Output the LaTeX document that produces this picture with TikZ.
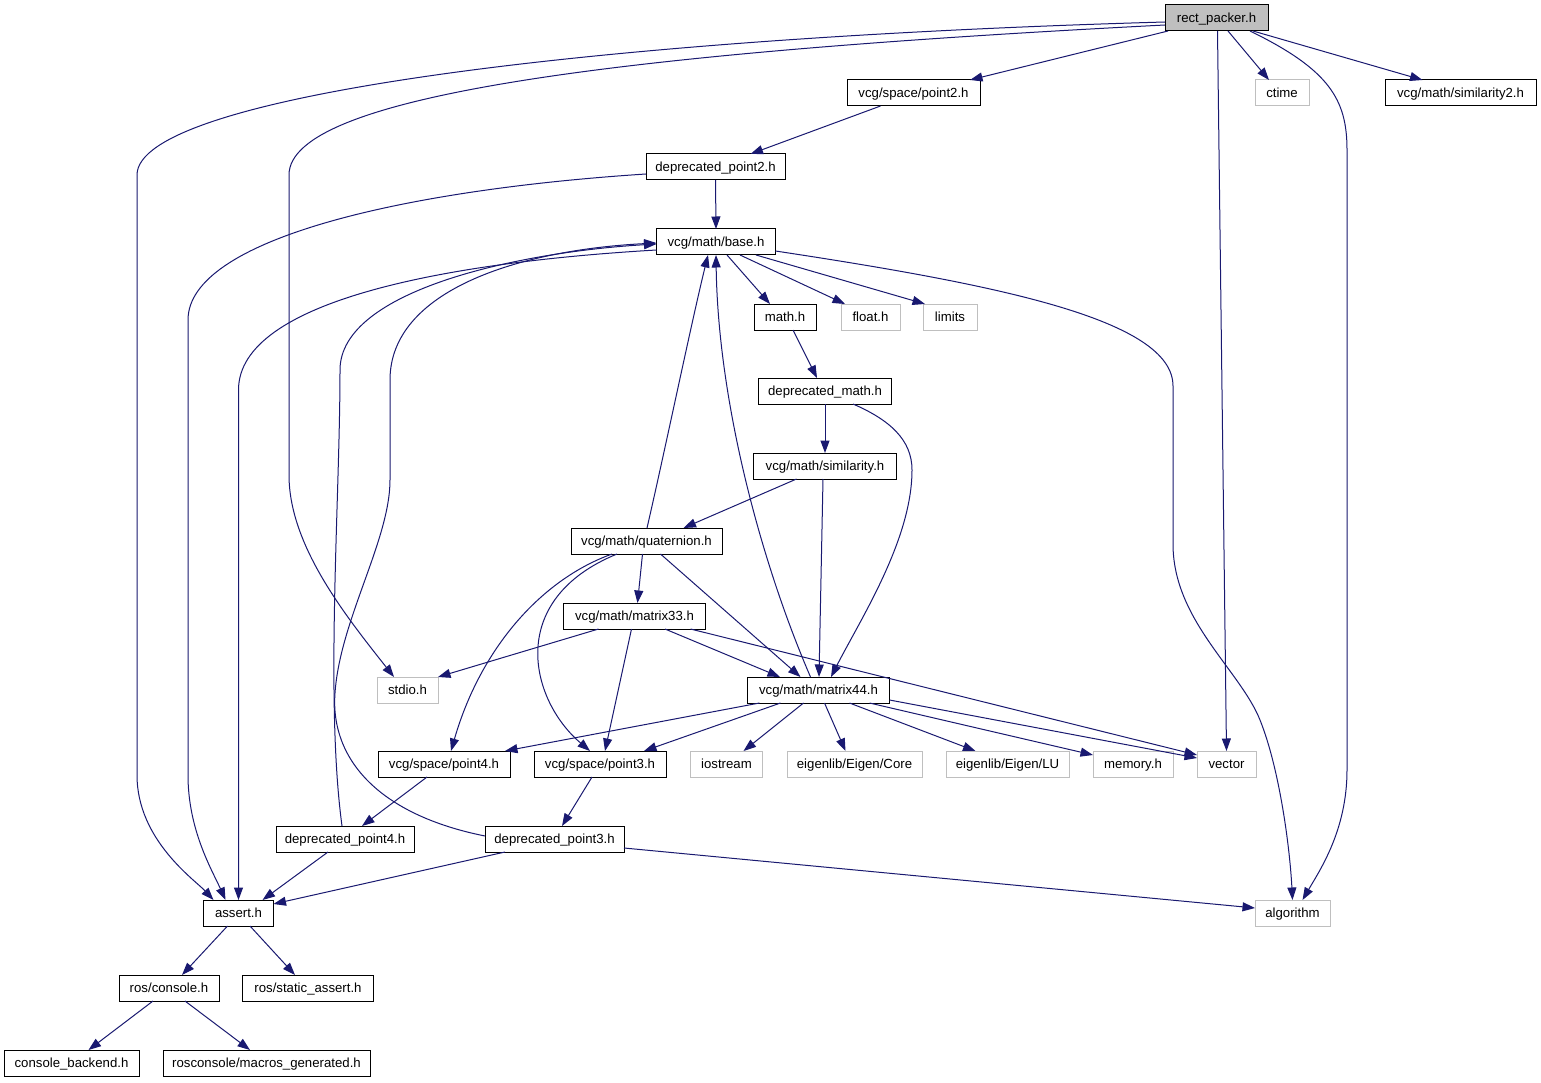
\documentclass[tikz,border=0pt]{standalone}
\usepackage{fontspec}
\setmainfont{Liberation Sans}
\usetikzlibrary{arrows.meta,calc}
\definecolor{edgeblue}{RGB}{25,25,112}
\definecolor{graybd}{RGB}{191,191,191}
\definecolor{rectfill}{RGB}{191,191,191}
\newcommand{\fsz}{\fontsize{13.2pt}{15pt}\selectfont}
\begin{document}
\begin{tikzpicture}[x=1pt,y=-1pt]
\tikzset{
  box/.style={draw=black, line width=1pt, fill=white, minimum height=26pt, inner sep=0pt, outer sep=0pt, text height=9.3pt, text depth=0pt, font=\fsz},
  gbox/.style={box, draw=graybd},
  edge/.style={draw=edgeblue, line width=1pt, -{Triangle[length=12.5pt,width=9pt]}},
}
\useasboundingbox (0,0) rectangle (1541,1083);
\fill[white] (0,0) rectangle (1541,1083);

% nodes
\node[box, fill=rectfill, minimum width=103pt] (rect) at (1216.5,18) {rect\_packer.h};
\node[box, minimum width=133pt] (point2) at (913.5,93) {vcg/space/point2.h};
\node[gbox, minimum width=54pt] (ctime) at (1282,93) {ctime};
\node[box, minimum width=151pt] (sim2) at (1460.5,93) {vcg/math/similarity2.h};
\node[box, minimum width=139pt] (dp2) at (715.5,167) {deprecated\_point2.h};
\node[box, minimum width=119pt] (base) at (716,242) {vcg/math/base.h};
\node[box, minimum width=62pt] (mathh) at (785,317) {math.h};
\node[gbox, minimum width=59pt] (floath) at (870.5,317) {float.h};
\node[gbox, minimum width=54pt] (limits) at (950,317) {limits};
\node[box, minimum width=133pt] (dmath) at (825,391) {deprecated\_math.h};
\node[box, minimum width=143pt] (sim) at (825,466) {vcg/math/similarity.h};
\node[box, minimum width=151pt] (quat) at (646.5,541) {vcg/math/quaternion.h};
\node[box, minimum width=142pt] (m33) at (634.5,616) {vcg/math/matrix33.h};
\node[gbox, minimum width=61pt] (stdio) at (407.5,690) {stdio.h};
\node[box, minimum width=142pt] (m44) at (818.5,690) {vcg/math/matrix44.h};
\node[box, minimum width=132pt] (point4) at (444,764) {vcg/space/point4.h};
\node[box, minimum width=132pt] (point3) at (600,764) {vcg/space/point3.h};
\node[gbox, minimum width=72pt] (iostream) at (726.5,764) {iostream};
\node[gbox, minimum width=135pt] (core) at (854.5,764) {eigenlib/Eigen/Core};
\node[gbox, minimum width=123pt] (lu) at (1007.5,764) {eigenlib/Eigen/LU};
\node[gbox, minimum width=80pt] (memory) at (1133,764) {memory.h};
\node[gbox, minimum width=59pt] (vector) at (1226.5,764) {vector};
\node[box, minimum width=138pt] (dp4) at (345,839) {deprecated\_point4.h};
\node[box, minimum width=139pt] (dp3) at (554.5,839) {deprecated\_point3.h};
\node[box, minimum width=70pt] (assert) at (238.5,913) {assert.h};
\node[gbox, minimum width=75pt] (algo) at (1292.5,913) {algorithm};
\node[box, minimum width=100pt] (console) at (169,988) {ros/console.h};
\node[box, minimum width=131pt] (static) at (308,988) {ros/static\_assert.h};
\node[box, minimum width=135pt] (backend) at (71.5,1063) {console\_backend.h};
\node[box, minimum width=207pt] (macros) at (266.5,1063) {rosconsole/macros\_generated.h};

% edges from rect_packer.h
\draw[edge] ($(rect.west)+(0,4)$) .. controls (600,38) and (137,95) .. (137,175) -- (137,775) .. controls (137,840) and (195,880) .. ($(assert.north west)+(10,0)$);
\draw[edge] ($(rect.west)+(0,7)$) .. controls (620,53) and (289,95) .. (289,175) -- (289,475) .. controls (289,545) and (345,615) .. ($(stdio.north west)+(17,0)$);
\draw[edge] ($(rect.south west)+(3,0)$) -- ($(point2.north east)+(-10,0)$);
\draw[edge] ($(rect.south)+(1,0)$) -- (vector.north);
\draw[edge] ($(rect.south)+(11.5,0)$) -- ($(ctime.north)+(-13,0)$);
\draw[edge] ($(rect.south east)+(-18,0)$) .. controls (1330,70) and (1347,100) .. (1347,150) -- (1347,770) .. controls (1347,830) and (1320,870) .. ($(algo.north)+(10,0)$);
\draw[edge] ($(rect.south east)+(-15,0)$) -- ($(sim2.north)+(-38,0)$);

% point2 / deprecated_point2
\draw[edge] ($(point2.south)+(-33,0)$) -- ($(dp2.north)+(35,0)$);
\draw[edge] (dp2.south) -- (base.north);
\draw[edge] ($(dp2.west)+(0,7)$) .. controls (400,190) and (188,240) .. (188,320) -- (188,775) .. controls (188,830) and (212,870) .. ($(assert.north west)+(22,0)$);

% base.h
\draw[edge] ($(base.south)+(11,0)$) -- ($(mathh.north)+(-15,0)$);
\draw[edge] ($(base.south)+(24,0)$) -- ($(floath.north)+(-25.5,0)$);
\draw[edge] ($(base.south)+(40,0)$) -- ($(limits.north west)+(2,0)$);
\draw[edge] ($(base.east)+(0,9)$) .. controls (1000,285) and (1173,320) .. (1173,386) -- (1173,544) .. controls (1173,620) and (1240,670) .. (1260,720) .. controls (1280,770) and (1290,850) .. (algo.north);
\draw[edge] ($(base.west)+(0,8)$) .. controls (450,262) and (238.5,300) .. (238.5,390) -- (assert.north);

% math.h / deprecated_math.h / similarity.h
\draw[edge] ($(mathh.south)+(8,0)$) -- ($(dmath.north)+(-8,0)$);
\draw[edge] (dmath.south) -- (sim.north);
\draw[edge] ($(dmath.south)+(28,0)$) .. controls (890,420) and (912,440) .. (912,470) .. controls (912,540) and (860,620) .. ($(m44.north)+(12.5,0)$);
\draw[edge] ($(sim.south west)+(43,0)$) -- ($(quat.north)+(37,0)$);
\draw[edge] ($(sim.south)+(-2,0)$) -- ($(m44.north)+(0.5,0)$);

% quaternion.h
\draw[edge] ($(quat.north)+(0.5,0)$) .. controls (665,450) and (692,320) .. ($(base.south)+(-8,0)$);
\draw[edge] ($(quat.south)+(-4,0)$) -- ($(m33.north)+(3,0)$);
\draw[edge] ($(quat.south)+(14,0)$) -- ($(m44.north)+(-18,0)$);
\draw[edge] ($(quat.south)+(-34.5,0)$) .. controls (540,580) and (480,650) .. ($(point4.north)+(7,0)$);
\draw[edge] ($(quat.south)+(-29.5,0)$) .. controls (505,600) and (530,700) .. ($(point3.north)+(-10,0)$);

% matrix33.h
\draw[edge] ($(m33.south west)+(35,0)$) -- (stdio.north east);
\draw[edge] ($(m33.south)+(30.5,0)$) -- ($(m44.north)+(-38.5,0)$);
\draw[edge] ($(m33.south)+(-3,0)$) -- ($(point3.north)+(5,0)$);
\draw[edge] ($(m33.south east)+(-15,0)$) -- ($(vector.north west)+(0,4)$);

% matrix44.h
\draw[edge] ($(m44.north)+(-8,0)$) .. controls (760,560) and (718,400) .. ($(base.south)+(0,0)$);
\draw[edge] ($(m44.south west)+(12,0)$) -- ($(point4.north east)+(-5,0)$);
\draw[edge] ($(m44.south west)+(33,0)$) -- ($(point3.north east)+(-22,0)$);
\draw[edge] ($(m44.south)+(-15,0)$) -- ($(iostream.north)+(17,0)$);
\draw[edge] ($(m44.south)+(6,0)$) -- ($(core.north)+(-9,0)$);
\draw[edge] ($(m44.south)+(31,0)$) -- ($(lu.north)+(-32,0)$);
\draw[edge] ($(m44.south east)+(-20,0)$) -- ($(memory.north west)+(0,4)$);
\draw[edge] ($(m44.south east)+(0,-3)$) -- ($(vector.north west)+(0,7)$);

% point4 / point3
\draw[edge] ($(point4.south)+(-17,0)$) -- ($(dp4.north)+(17,0)$);
\draw[edge] ($(point3.south)+(-8,0)$) -- ($(dp3.north)+(7.5,0)$);

% deprecated_point4.h
\draw[edge] ($(dp4.north)+(-3,0)$) .. controls (325,700) and (340,500) .. (340,370) .. controls (340,290) and (520,252) .. ($(base.west)+(0,2)$);
\draw[edge] ($(dp4.south)+(-17,0)$) -- ($(assert.north east)+(-11,0)$);

% deprecated_point3.h
\draw[edge] ($(dp3.west)+(0,-3)$) .. controls (380,815) and (330,760) .. (335,693) .. controls (340,620) and (390,540) .. (390,480) -- (390,380) .. controls (390,290) and (520,250) .. ($(base.west)+(0,1)$);
\draw[edge] ($(dp3.south west)+(20,0)$) -- ($(assert.north east)+(0,4)$);
\draw[edge] ($(dp3.east)+(0,9)$) -- ($(algo.west)+(0,-5)$);

% assert.h / ros
\draw[edge] ($(assert.south)+(-11,0)$) -- ($(console.north)+(13,0)$);
\draw[edge] ($(assert.south)+(11.5,0)$) -- ($(static.north)+(-13,0)$);
\draw[edge] ($(console.south)+(-16,0)$) -- ($(backend.north)+(17,0)$);
\draw[edge] ($(console.south)+(16,0)$) -- ($(macros.north)+(-16.5,0)$);
\end{tikzpicture}
\end{document}
